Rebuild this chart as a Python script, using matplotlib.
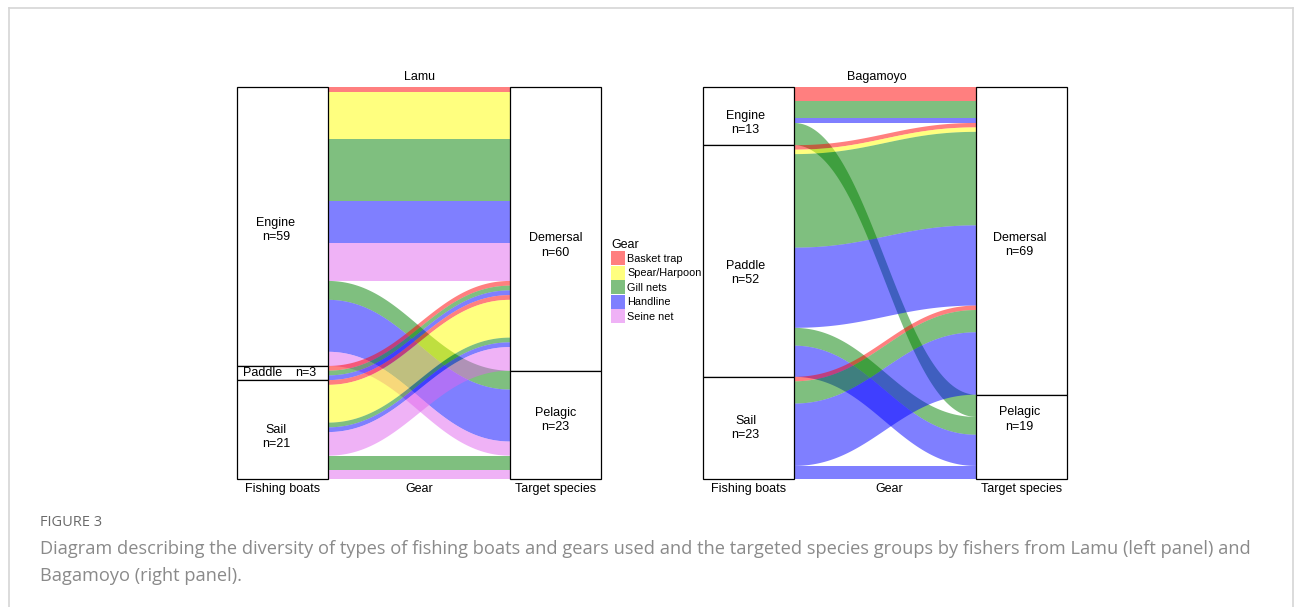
import numpy as np
import matplotlib
matplotlib.use('Agg')
import matplotlib.pyplot as plt
from matplotlib.patches import Rectangle, Polygon, Patch
from matplotlib.lines import Line2D

plt.rcParams['font.family'] = ['Liberation Sans', 'DejaVu Sans']

# ---- data (number of fishers), gear order as in legend ----
gears = ['Basket trap', 'Spear/Harpoon', 'Gill nets', 'Handline', 'Seine net']
gear_colors = ['#FF0000', '#FFFF00', '#008000', '#0000FF', '#E066EE']
boats = ['Engine', 'Paddle', 'Sail']
targets = ['Demersal', 'Pelagic']

# rows = boats (Engine, Paddle, Sail), columns = gears
lamu_demersal = [[1, 10, 13, 9, 8],
                 [1, 0, 1, 1, 0],
                 [1, 8, 1, 1, 5]]
lamu_pelagic = [[0, 0, 4, 11, 3],
                [0, 0, 0, 0, 0],
                [0, 0, 3, 0, 2]]

bagamoyo_demersal = [[3, 0, 4, 1, 0],
                     [1, 1, 21, 18, 0],
                     [1, 0, 5, 14, 0]]
bagamoyo_pelagic = [[0, 0, 5, 0, 0],
                    [0, 0, 4, 7, 0],
                    [0, 0, 0, 3, 0]]

W, H = 1295, 607
fig = plt.figure(figsize=(W / 100, H / 100), dpi=100)

BOX = 1 / 3
K = 0.42


def flow_curve(n=100):
    u = np.linspace(0, 1, n)
    bx = 3 * (1 - u) ** 2 * u * K + 3 * (1 - u) * u ** 2 * (1 - K) + u ** 3
    by = 3 * u ** 2 - 2 * u ** 3
    return bx, by


def draw_panel(ax, to_dem, to_pel, title, nudge_left, nudge_right, dx_left, dx_right,
               title_dx=0.0, gear_dx=0.0):
    flows = []
    for bi in range(len(boats)):
        for ti, mat in enumerate([to_dem, to_pel]):
            for gi in range(len(gears)):
                if mat[bi][gi] > 0:
                    flows.append((bi, ti, gi, mat[bi][gi]))

    left, right = {}, {}
    y = 0
    for f in flows:
        left[f] = y
        y += f[3]
    total = y
    y = 0
    for f in sorted(flows, key=lambda f: (f[1], f[0], f[2])):
        right[f] = y
        y += f[3]

    x0, x1 = 1 + BOX / 2, 2 - BOX / 2
    bx, by = flow_curve()
    xs = x0 + (x1 - x0) * bx
    for f in flows:
        top = left[f] + (right[f] - left[f]) * by
        bot = top + f[3]
        verts = np.vstack([np.column_stack([xs, top]),
                           np.column_stack([xs[::-1], bot[::-1]])])
        ax.add_patch(Polygon(verts, closed=True, facecolor=gear_colors[f[2]],
                             alpha=0.5, edgecolor='none', lw=0))

    boat_tot = [sum(f[3] for f in flows if f[0] == i) for i in range(len(boats))]
    targ_tot = [sum(f[3] for f in flows if f[1] == i) for i in range(len(targets))]

    y = 0
    for i, name in enumerate(boats):
        n = boat_tot[i]
        ax.add_patch(Rectangle((1 - BOX / 2, y), BOX, n, facecolor='white',
                               edgecolor='black', lw=0.9, clip_on=False))
        yc = y + n / 2 + nudge_left[i]
        if n < 5:
            ax.text(1 - BOX / 2 + 0.021, yc, name, ha='left', va='center', fontsize=9)
            ax.text(1.046, yc, f'n={n}', ha='left', va='center', fontsize=9)
        else:
            ax.text(1 + dx_left, yc, f'{name}\nn={n}', ha='center', va='center',
                    fontsize=9, linespacing=1.25)
        y += n

    y = 0
    for i, name in enumerate(targets):
        n = targ_tot[i]
        ax.add_patch(Rectangle((2 - BOX / 2, y), BOX, n, facecolor='white',
                               edgecolor='black', lw=0.9, clip_on=False))
        ax.text(2 + dx_right, y + n / 2 + nudge_right[i], f'{name}\nn={n}',
                ha='center', va='center', fontsize=9, linespacing=1.25)
        y += n

    ax.set_xlim(1 - BOX / 2, 2 + BOX / 2)
    ax.set_ylim(total, 0)
    ax.set_axis_off()

    for xx, lab in [(1, 'Fishing boats'), (1.5 + gear_dx, 'Gear'), (2, 'Target species')]:
        ax.annotate(lab, xy=(xx, total), xytext=(0, -9.5), textcoords='offset pixels',
                    ha='center', va='center', fontsize=9, annotation_clip=False)
    ax.annotate(title, xy=(1.5 + title_dx, 0), xytext=(0, 10), textcoords='offset pixels',
                ha='center', va='center', fontsize=9, annotation_clip=False)


top_px, bot_px = 87.3, 479.3
ax1 = fig.add_axes([237 / W, 1 - bot_px / H, 364 / W, (bot_px - top_px) / H])
ax2 = fig.add_axes([703 / W, 1 - bot_px / H, 364 / W, (bot_px - top_px) / H])

draw_panel(ax1, lamu_demersal, lamu_pelagic, 'Lamu',
           nudge_left=[0.7, 0, 1.5], nudge_right=[3.5, -1.0],
           dx_left=-0.024, dx_right=0.0)
draw_panel(ax2, bagamoyo_demersal, bagamoyo_pelagic, 'Bagamoyo',
           nudge_left=[1.5, 2.7, 0], nudge_right=[0.9, -3.9],
           dx_left=-0.011, dx_right=-0.007, title_dx=-0.03, gear_dx=0.015)

handles = [Patch(facecolor=c, alpha=0.5, edgecolor='none') for c in gear_colors]
fig.legend(handles, gears, title='Gear', loc='upper left',
           bbox_to_anchor=(611 / W, 1 - 239 / H), frameon=False,
           fontsize=7.8, title_fontsize=9, handlelength=1.3, handleheight=1.65,
           labelspacing=0.02, handletextpad=0.2, borderpad=0, borderaxespad=0,
           alignment='left')

# page frame and caption
fc = '#d6d6d6'
fig.add_artist(Line2D([9 / W, 1293 / W], [1 - 8 / H, 1 - 8 / H], color=fc, lw=1.2))
fig.add_artist(Line2D([9 / W, 9 / W], [0, 1 - 8 / H], color=fc, lw=1.2))
fig.add_artist(Line2D([1293 / W, 1293 / W], [0, 1 - 8 / H], color=fc, lw=1.2))

fig.text(40 / W, 1 - 523 / H, 'FIGURE 3', fontsize=10.5, color='#6a6a6a',
         family='Open Sans', va='center')
fig.text(40 / W, 1 - 549 / H,
         'Diagram describing the diversity of types of fishing boats and gears used and the '
         'targeted species groups by fishers from Lamu (left panel) and',
         fontsize=13.15, color='#8a8a8a', family='Open Sans', va='center')
fig.text(40 / W, 1 - 576 / H, 'Bagamoyo (right panel).',
         fontsize=13.15, color='#8a8a8a', family='Open Sans', va='center')

fig.savefig('out.png', dpi=100)
